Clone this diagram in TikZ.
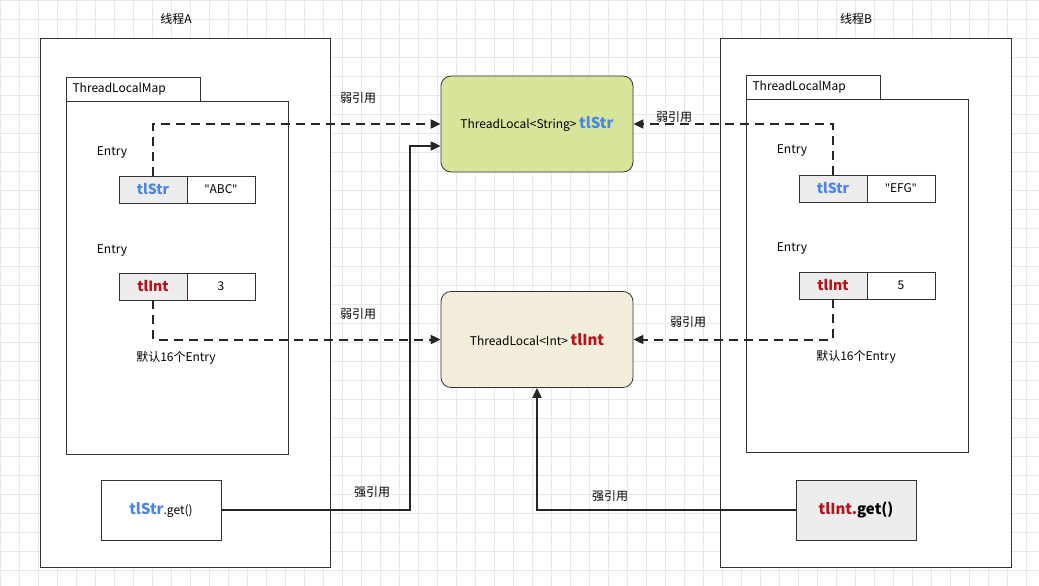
\documentclass[tikz,border=0pt]{standalone}
\usepackage{fontspec}
\setmainfont{Noto Sans CJK SC}
\newfontfamily\latinsans{Noto Sans}
\usetikzlibrary{arrows.meta}
\definecolor{strblue}{HTML}{4A86E8}
\definecolor{intred}{HTML}{B5121B}
\definecolor{greenfill}{HTML}{D7E59B}
\definecolor{beigefill}{HTML}{F3EEDB}
\newcommand{\qt}{{\latinsans\symbol{34}}}
\tikzset{
  box/.style={draw=black!80,line width=0.8pt,inner sep=0pt,anchor=north west},
  cell/.style={draw=black!80,line width=0.8pt,minimum width=68pt,minimum height=27pt,inner sep=0pt,font=\fontsize{12}{14}\selectfont},
  key/.style={cell,fill=black!7,font=\fontsize{14}{16}\selectfont\bfseries},
  tl/.style={draw=black!80,line width=0.8pt,rounded corners=10pt,minimum width=192pt,minimum height=96pt,font=\fontsize{12}{14}\selectfont},
  lbl/.style={font=\fontsize{12}{14}\selectfont},
  weak/.style={draw=black!85,line width=2pt,dash pattern=on 9pt off 6pt,-{Triangle[length=10pt,width=9pt]}},
  strong/.style={draw=black!85,line width=2pt,-{Triangle[length=10pt,width=9pt]}}
}
\begin{document}
\begin{tikzpicture}[x=1pt,y=-1pt]
\useasboundingbox (0,0) rectangle (1039,586);
\fill[white] (0,0) rectangle (1039,586);
\foreach \gx in {0,19,...,1039} \draw[black!9] (\gx,0) -- (\gx,586);
\foreach \gy in {0,19,...,586} \draw[black!9] (0,\gy) -- (1039,\gy);
% threads
\node[box,minimum width=290pt,minimum height=529pt,fill=white] (thA) at (40,38) {};
\node[box,minimum width=291pt,minimum height=529pt,fill=white] (thB) at (720,38) {};
\node[lbl] at (176,19) {线程A};
\node[lbl] at (856,19) {线程B};
% maps
\node[box,minimum width=134pt,minimum height=24pt] (tabA) at (66,77) {};
\node[lbl,anchor=west] at (69,89) {ThreadLocalMap};
\node[box,minimum width=222pt,minimum height=353pt,fill=white] (mapA) at (66,101) {};
\node[box,minimum width=134pt,minimum height=24pt] (tabB) at (746,75) {};
\node[lbl,anchor=west] at (749,87) {ThreadLocalMap};
\node[box,minimum width=222pt,minimum height=353pt,fill=white] (mapB) at (746,99) {};
% entries A
\node[lbl] at (112,153) {Entry};
\node[key,text=strblue] (strA) at (153,189.5) {tlStr};
\node[cell] (valA1) at (221,189.5) {\qt ABC\qt};
\node[lbl] at (112,251) {Entry};
\node[key,text=intred] (intA) at (153,286.5) {tlInt};
\node[cell] (valA2) at (221,286.5) {3};
\node[lbl] at (176,358) {默认16个Entry};
% entries B
\node[lbl] at (792,151) {Entry};
\node[key,text=strblue] (strB) at (833,188.5) {tlStr};
\node[cell] (valB1) at (901,188.5) {\qt EFG\qt};
\node[lbl] at (792,249) {Entry};
\node[key,text=intred] (intB) at (833,285.5) {tlInt};
\node[cell] (valB2) at (901,285.5) {5};
\node[lbl] at (856,357) {默认16个Entry};
% thread locals
\node[tl,fill=greenfill] (tlS) at (537,124) {ThreadLocal<String> {\fontsize{15}{17}\selectfont\bfseries\color{strblue}tlStr}};
\node[tl,fill=beigefill] (tlI) at (537,339.5) {ThreadLocal<Int> {\fontsize{15}{17}\selectfont\bfseries\color{intred}tlInt}};
% get calls
\node[draw=black!80,line width=0.8pt,minimum width=120pt,minimum height=60pt,fill=white] (getA) at (161,510) {{\fontsize{15}{17}\selectfont\bfseries\color{strblue}tlStr}\fontsize{12}{14}\selectfont.get()};
\node[draw=black!80,line width=0.8pt,minimum width=120pt,minimum height=60pt,fill=black!7,font=\fontsize{15}{17}\selectfont\bfseries] (getB) at (856,510) {\color{intred}tlInt.\color{black}get()};
% references
\draw[weak] (strA.north) |- (tlS.west);
\draw[weak] (strB.north) |- (tlS.east);
\draw[weak] (intA.south) |- (tlI.west);
\draw[weak] (intB.south) |- (tlI.east);
\draw[strong] (getA.east) -| (410,146) -- ([yshift=-22pt]tlS.west);
\draw[strong] (getB.west) -| (tlI.south);
\node[lbl] at (358,98) {弱引用};
\node[lbl] at (674,117) {弱引用};
\node[lbl] at (358,314) {弱引用};
\node[lbl] at (688,322) {弱引用};
\node[lbl] at (372,492) {强引用};
\node[lbl] at (610,496) {强引用};
\end{tikzpicture}
\end{document}
